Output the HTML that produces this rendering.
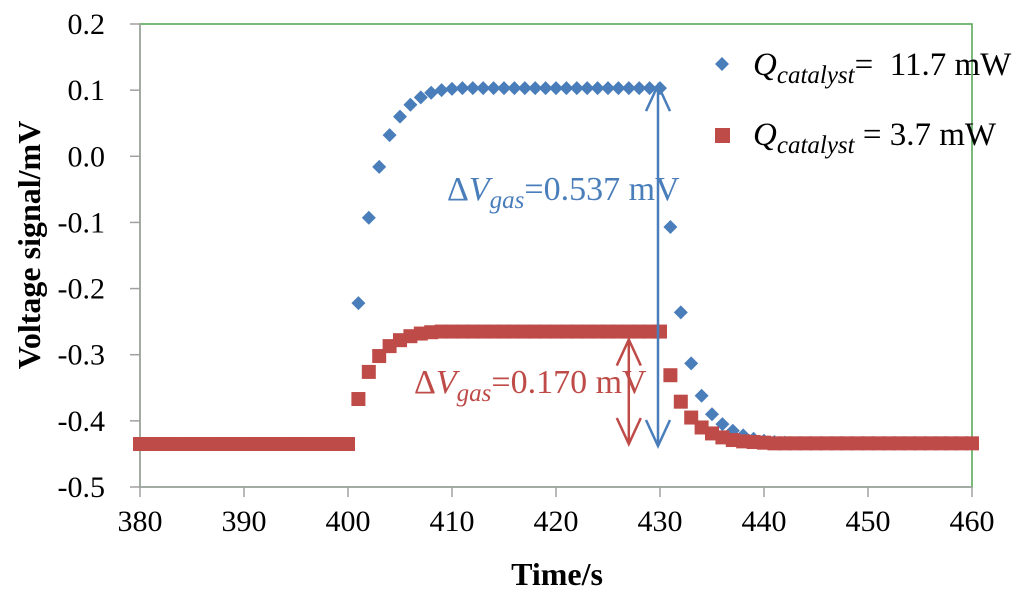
<!DOCTYPE html>
<html><head><meta charset="utf-8"><style>
html,body{margin:0;padding:0;background:#fff;}
svg{display:block;}
</style></head><body>
<svg id="chart" width="1024" height="598" xmlns="http://www.w3.org/2000/svg" style="position:absolute;left:0;top:0">
<rect x="0" y="0" width="1024" height="598" fill="#fff"/>
<g id="grid"></g>
<g id="marks"></g>
<g id="ann"></g>
</svg>
<script>
const xTicks=[380,390,400,410,420,430,440,450,460];
const yTicks=[0.2,0.1,0.0,-0.1,-0.2,-0.3,-0.4,-0.5];
const yTickLabels=["0.2","0.1","0.0","-0.1","-0.2","-0.3","-0.4","-0.5"];
const blueTimes=[401,402,403,404,405,406,407,408,409,410,411,412,413,414,415,416,417,418,419,420,421,422,423,424,425,426,427,428,429,430,431,432,433,434,435,436,437,438,439,440,441,442,443,444];
const blueValues=[-0.222,-0.093,-0.016,0.032,0.060,0.078,0.089,0.096,0.100,0.102,0.103,0.103,0.103,0.103,0.103,0.103,0.103,0.103,0.103,0.103,0.103,0.103,0.103,0.103,0.103,0.103,0.103,0.103,0.103,0.103,-0.107,-0.236,-0.313,-0.362,-0.390,-0.405,-0.415,-0.422,-0.427,-0.430,-0.432,-0.433,-0.434,-0.434];
const redTimes=[];for(let t=380;t<=460;t++)redTimes.push(t);
const redValues=[-0.435,-0.435,-0.435,-0.435,-0.435,-0.435,-0.435,-0.435,-0.435,-0.435,-0.435,-0.435,-0.435,-0.435,-0.435,-0.435,-0.435,-0.435,-0.435,-0.435,-0.435,
-0.367,-0.326,-0.302,-0.287,-0.278,-0.272,-0.268,-0.266,-0.265,-0.265,-0.265,-0.265,-0.265,-0.265,-0.265,-0.265,-0.265,-0.265,-0.265,-0.265,-0.265,-0.265,-0.265,-0.265,-0.265,-0.265,-0.265,-0.265,-0.265,-0.265,
-0.331,-0.371,-0.395,-0.410,-0.419,-0.425,-0.429,-0.431,-0.432,-0.433,-0.434,-0.434,-0.434,-0.434,-0.434,-0.434,-0.434,-0.434,-0.434,-0.434,-0.434,-0.434,-0.434,-0.434,-0.434,-0.434,-0.434,-0.434,-0.434,-0.434];
const blueTop=0.103, base=-0.435, redTop=-0.265;

const X0=140,X1=972,Y0=24,Y1=487;
const x=v=>X0+(v-380)/(460-380)*(X1-X0);
const y=v=>Y1-(v-(-0.5))/(0.7)*(Y1-Y0);
const NS="http://www.w3.org/2000/svg";
function mk(tag,attrs,parent,text){const e=document.createElementNS(NS,tag);for(const k in attrs)e.setAttribute(k,attrs[k]);if(text!==undefined)e.textContent=text;parent.appendChild(e);return e;}
const grid=document.getElementById('grid'),marks=document.getElementById('marks'),ann=document.getElementById('ann');
const serif='Liberation Serif, serif';
let e;
e=mk('rect',{x:X0,y:Y0,width:X1-X0,height:Y1-Y0,fill:'none',stroke:'#4ea24e','stroke-width':1.5},grid);


e=mk('line',{x1:X0,y1:Y0,x2:X0,y2:Y1,stroke:'#a0a0a0','stroke-width':1.5},grid);


e=mk('line',{x1:X0,y1:Y1,x2:X1,y2:Y1,stroke:'#a0a0a0','stroke-width':1.5},grid);


yTicks.forEach((v,i)=>{
 e=mk('line',{x1:X0-10,y1:y(v),x2:X0,y2:y(v),stroke:'#a0a0a0','stroke-width':1.5},grid);
 
 
 e=mk('text',{x:X0-35,y:y(v)+10,'text-anchor':'end','font-family':serif,'font-size':30},grid,yTickLabels[i]);
 
 
});
xTicks.forEach(v=>{
 e=mk('line',{x1:x(v),y1:Y1,x2:x(v),y2:Y1+10,stroke:'#a0a0a0','stroke-width':1.5},grid);
 
 
 e=mk('text',{x:x(v),y:Y1+44,'text-anchor':'middle','font-family':serif,'font-size':30},grid,String(v));
 
 
});
e=mk('text',{x:557,y:585,'text-anchor':'middle','font-family':serif,'font-size':32,'font-weight':'bold'},grid,'Time/s');


e=mk('text',{x:0,y:0,transform:'translate(40,245) rotate(-90)','text-anchor':'middle','font-family':serif,'font-size':32,'font-weight':'bold'},grid,'Voltage signal/mV');



const blue='#4a7ebb',red='#be4b48';
blueTimes.forEach((t,i)=>{
 const cx=x(t),cy=y(blueValues[i]),r=7;
 e=mk('polygon',{points:`${cx},${cy-r} ${cx+r},${cy} ${cx},${cy+r} ${cx-r},${cy}`,fill:blue},marks);
 
 
});
redTimes.forEach((t,i)=>{
 const cx=x(t),cy=y(redValues[i]),s=14;
 e=mk('rect',{x:cx-s/2,y:cy-s/2,width:s,height:s,fill:red},marks);
 
 
});

function darrow(xx,ya,yb,col,name){
 const g=mk('g',{},ann);
 
 
 mk('line',{x1:xx,y1:ya,x2:xx,y2:yb,stroke:col,'stroke-width':2.5},g);
 mk('polyline',{points:`${xx-12},${ya+26} ${xx},${ya} ${xx+12},${ya+26}`,fill:'none',stroke:col,'stroke-width':2.5},g);
 mk('polyline',{points:`${xx-12},${yb-26} ${xx},${yb} ${xx+12},${yb-26}`,fill:'none',stroke:col,'stroke-width':2.5},g);
}
darrow(x(430)-2,y(blueTop)-3,y(base)+2,blue,'delta-v-arrow-blue');
darrow(x(427),y(redTop)+8,y(base),red,'delta-v-arrow-red');
</script>
<svg style="position:absolute;left:0;top:0" width="1024" height="598" xmlns="http://www.w3.org/2000/svg">
<text x="447" y="200" font-family="Liberation Serif, serif" font-size="34" fill="#4a7ebb">Δ<tspan font-style="italic">V</tspan><tspan font-style="italic" font-size="25" dy="8">gas</tspan><tspan dy="-8">=0.537 mV</tspan></text>
<text x="414" y="393" font-family="Liberation Serif, serif" font-size="34" fill="#be4b48">Δ<tspan font-style="italic">V</tspan><tspan font-style="italic" font-size="25" dy="8">gas</tspan><tspan dy="-8">=0.170 mV</tspan></text>
<g>
<polygon points="722,57 729,64 722,71 715,64" fill="#4a7ebb"/>
<text x="753" y="75" font-family="Liberation Serif, serif" font-size="33" xml:space="preserve"><tspan font-style="italic">Q</tspan><tspan font-style="italic" font-size="25" dy="8">catalyst</tspan><tspan dy="-8">=  11.7 mW</tspan></text>
<rect x="715" y="128" width="15" height="15" fill="#be4b48"/>
<text x="753" y="145" font-family="Liberation Serif, serif" font-size="33"><tspan font-style="italic">Q</tspan><tspan font-style="italic" font-size="25" dy="8">catalyst</tspan><tspan dy="-8"> = 3.7 mW</tspan></text>
</g>
</svg>
</body></html>
